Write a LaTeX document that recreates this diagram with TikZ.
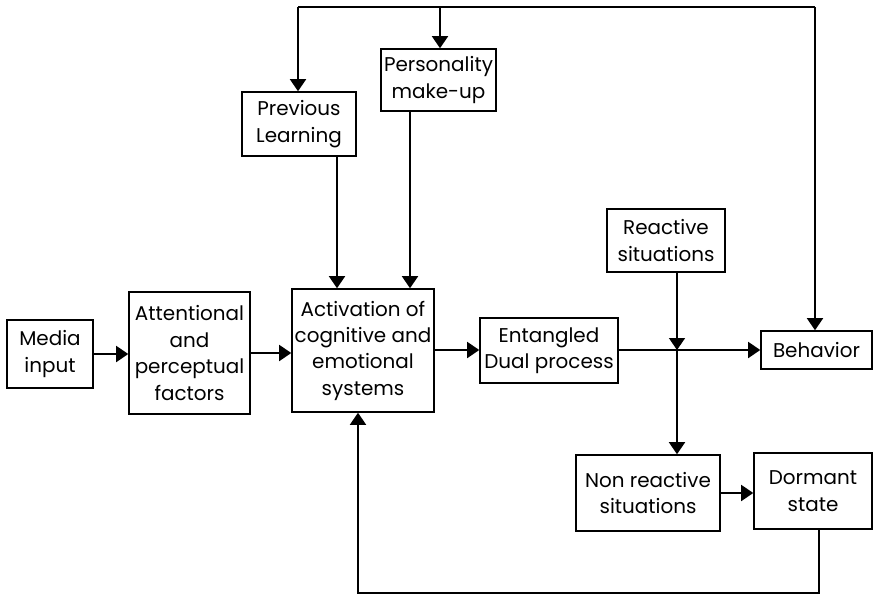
\documentclass[tikz,border=0pt]{standalone}
\usepackage{fontspec}
\setmainfont{Poppins}
\usetikzlibrary{arrows.meta, positioning}

\begin{document}
\begin{tikzpicture}[x=0.3mm, y=-0.3mm,
	block/.style={draw, line width=1.3pt, align=center, inner sep=2pt, font=\fontsize{17}{22.5}\selectfont},
	arr/.style={line width=1.3pt, -{Triangle[length=3.6mm, width=4.8mm]}},
	link/.style={line width=1.3pt}
	]
		\useasboundingbox (0,0) rectangle (874,596);

		\node[block, minimum width=2.58cm, minimum height=2.04cm] (media) at (50,354) {Media\\input};
		\node[block, minimum width=3.63cm, minimum height=3.66cm] (attn) at (189.5,353) {Attentional\\and\\perceptual\\factors};
		\node[block, minimum width=4.26cm, minimum height=3.69cm] (activ) at (363,350.5) {Activation of\\cognitive and\\emotional\\systems};
		\node[block, minimum width=4.14cm, minimum height=1.95cm] (entang) at (549,350.5) {Entangled\\Dual process};
		\node[block, minimum width=3.33cm, minimum height=1.14cm] (behav) at (816.5,350) {Behavior};
		\node[block, minimum width=3.54cm, minimum height=1.89cm] (react) at (666,240.5) {Reactive\\situations};
		\node[block, minimum width=3.42cm, minimum height=1.92cm] (prevl) at (299,124) {Previous\\Learning};
		\node[block, minimum width=3.45cm, minimum height=1.86cm] (person) at (438.5,80) {Personality\\make-up};
		\node[block, minimum width=4.32cm, minimum height=2.28cm] (nonreact) at (648,493) {Non reactive\\situations};
		\node[block, minimum width=3.54cm, minimum height=2.28cm] (dormant) at (813,491) {Dormant\\state};

		\coordinate (tl) at (298,7);
		\coordinate (tm) at (440,7);
		\coordinate (tr) at (815,7);
		\coordinate (pl) at (337,0);
		\coordinate (pp) at (410,0);
		\coordinate (j) at (677,350);
		\coordinate (dd) at (819,0);
		\coordinate (bl) at (358,593);

		\draw[arr] (media) -- (attn.west |- media);
		\draw[arr] (attn) -- (activ.west |- attn);
		\draw[arr] (activ.east |- j) -- (entang.west |- j);
		\draw[arr] (entang.east |- j) -- (behav.west |- j);
		\draw[arr] (react.south -| j) -- (j);
		\draw[arr] (j) -- (nonreact.north -| j);
		\draw[arr] (nonreact) -- (dormant.west |- nonreact);

		\draw[link] (tl) -- (tr);
		\draw[arr] (tl) -- (prevl.north -| tl);
		\draw[arr] (tm) -- (person.north -| tm);
		\draw[arr] (tr) -- (behav.north -| tr);
		\draw[arr] (prevl.south -| pl) -- (activ.north -| pl);
		\draw[arr] (person.south -| pp) -- (activ.north -| pp);

		\draw[arr] (dormant.south -| dd) |- (bl) -- (activ.south -| bl);
	\end{tikzpicture}
\end{document}
